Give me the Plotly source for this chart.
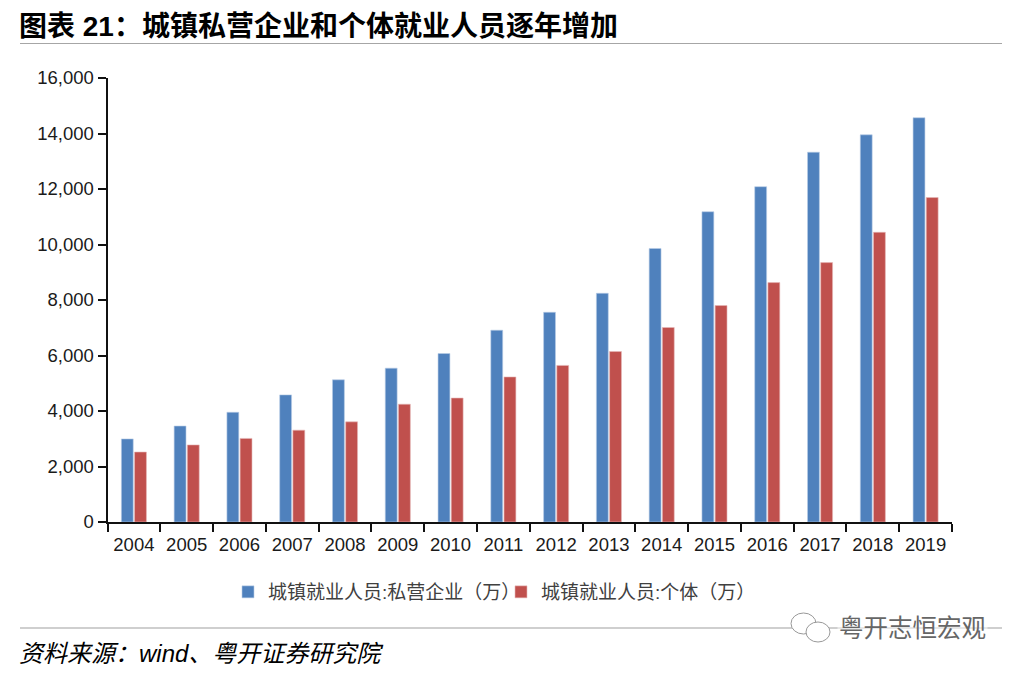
import plotly.graph_objects as go

years = ["2004","2005","2006","2007","2008","2009","2010","2011","2012","2013","2014","2015","2016","2017","2018","2019"]
private = [2994,3458,3954,4581,5124,5544,6071,6912,7557,8242,9857,11180,12083,13327,13952,14567]
individual = [2521,2778,3012,3310,3609,4245,4467,5227,5643,6142,7009,7800,8627,9348,10440,11692]
name_a = "城镇就业人员:私营企业（万）"
name_b = "城镇就业人员:个体（万）"
title = "图表 21：城镇私营企业和个体就业人员逐年增加"
source = "资料来源：wind、粤开证券研究院"
mark = "粤开志恒宏观"

W, H = 1020, 674
CJK = "Liberation Sans, Noto Sans CJK SC"
px = lambda v: v / W
py = lambda v: 1 - v / H

fig = go.Figure()
fig.add_bar(x=years, y=private, name=name_a, marker=dict(color="#4F81BD", line=dict(color="#B9CDE5", width=0.6)))
fig.add_bar(x=years, y=individual, name=name_b, marker=dict(color="#C0504D", line=dict(color="#E6B9B8", width=0.6)))

fig.update_layout(
    width=W, height=H, autosize=False,
    margin=dict(l=0, r=0, t=0, b=0, autoexpand=False),
    paper_bgcolor="white", plot_bgcolor="white",
    barmode="group", bargap=0.5, bargroupgap=0.1,
    font=dict(family=CJK, color="#1a1a1a", size=18),
    legend=dict(
        orientation="h", x=px(228), y=py(592), xanchor="left", yanchor="middle",
        font=dict(size=19, color="#404040"), itemwidth=30, traceorder="normal",
        entrywidthmode="pixels", entrywidth=228,
        bgcolor="rgba(0,0,0,0)",
    ),
    xaxis=dict(
        domain=[px(107.5), px(952)], type="category", tickson="boundaries",
        ticks="outside", ticklen=8, tickwidth=2, tickcolor="#111",
        showline=True, linecolor="#111", linewidth=2, showgrid=False,
        tickfont=dict(size=18.5), ticklabelstandoff=5,
    ),
    yaxis=dict(
        domain=[py(522), py(78)], range=[0, 16000], dtick=2000, tickformat=",d",
        ticks="outside", ticklen=8, tickwidth=2, tickcolor="#111",
        showline=True, linecolor="#111", linewidth=2, showgrid=False,
        tickfont=dict(size=18.5),
    ),
    shapes=[
        dict(type="line", xref="paper", yref="paper", x0=px(20), x1=px(1002), y0=py(43.5), y1=py(43.5),
             line=dict(color="#a6a6a6", width=1.2)),
        dict(type="line", xref="paper", yref="paper", x0=px(20), x1=px(1002), y0=py(628), y1=py(628),
             line=dict(color="#bfbfbf", width=1.6)),
        dict(type="circle", xref="paper", yref="paper", x0=px(791), x1=px(816), y0=py(634), y1=py(613),
             fillcolor="white", line=dict(color="#999", width=1)),
        dict(type="circle", xref="paper", yref="paper", x0=px(806), x1=px(830), y0=py(642), y1=py(622),
             fillcolor="white", line=dict(color="#999", width=1)),
    ],
    annotations=[
        dict(text=title, xref="paper", yref="paper", x=px(17), y=py(26), xanchor="left", yanchor="middle",
             showarrow=False, font=dict(size=28, color="#000", family=CJK, weight="bold")),
        dict(text=source, xref="paper", yref="paper", x=px(17), y=py(653), xanchor="left", yanchor="middle",
             showarrow=False, font=dict(size=24, color="#000", family=CJK, style="italic")),
        dict(text=mark, xref="paper", yref="paper", x=px(988), y=py(628), xanchor="right", yanchor="middle",
             showarrow=False, bgcolor="rgba(255,255,255,0.5)", font=dict(size=24.5, color="#666", family=CJK)),
    ],
)
fig.write_html("out.html", config=dict(displayModeBar=False), post_script="document.body.style.margin='0';")
